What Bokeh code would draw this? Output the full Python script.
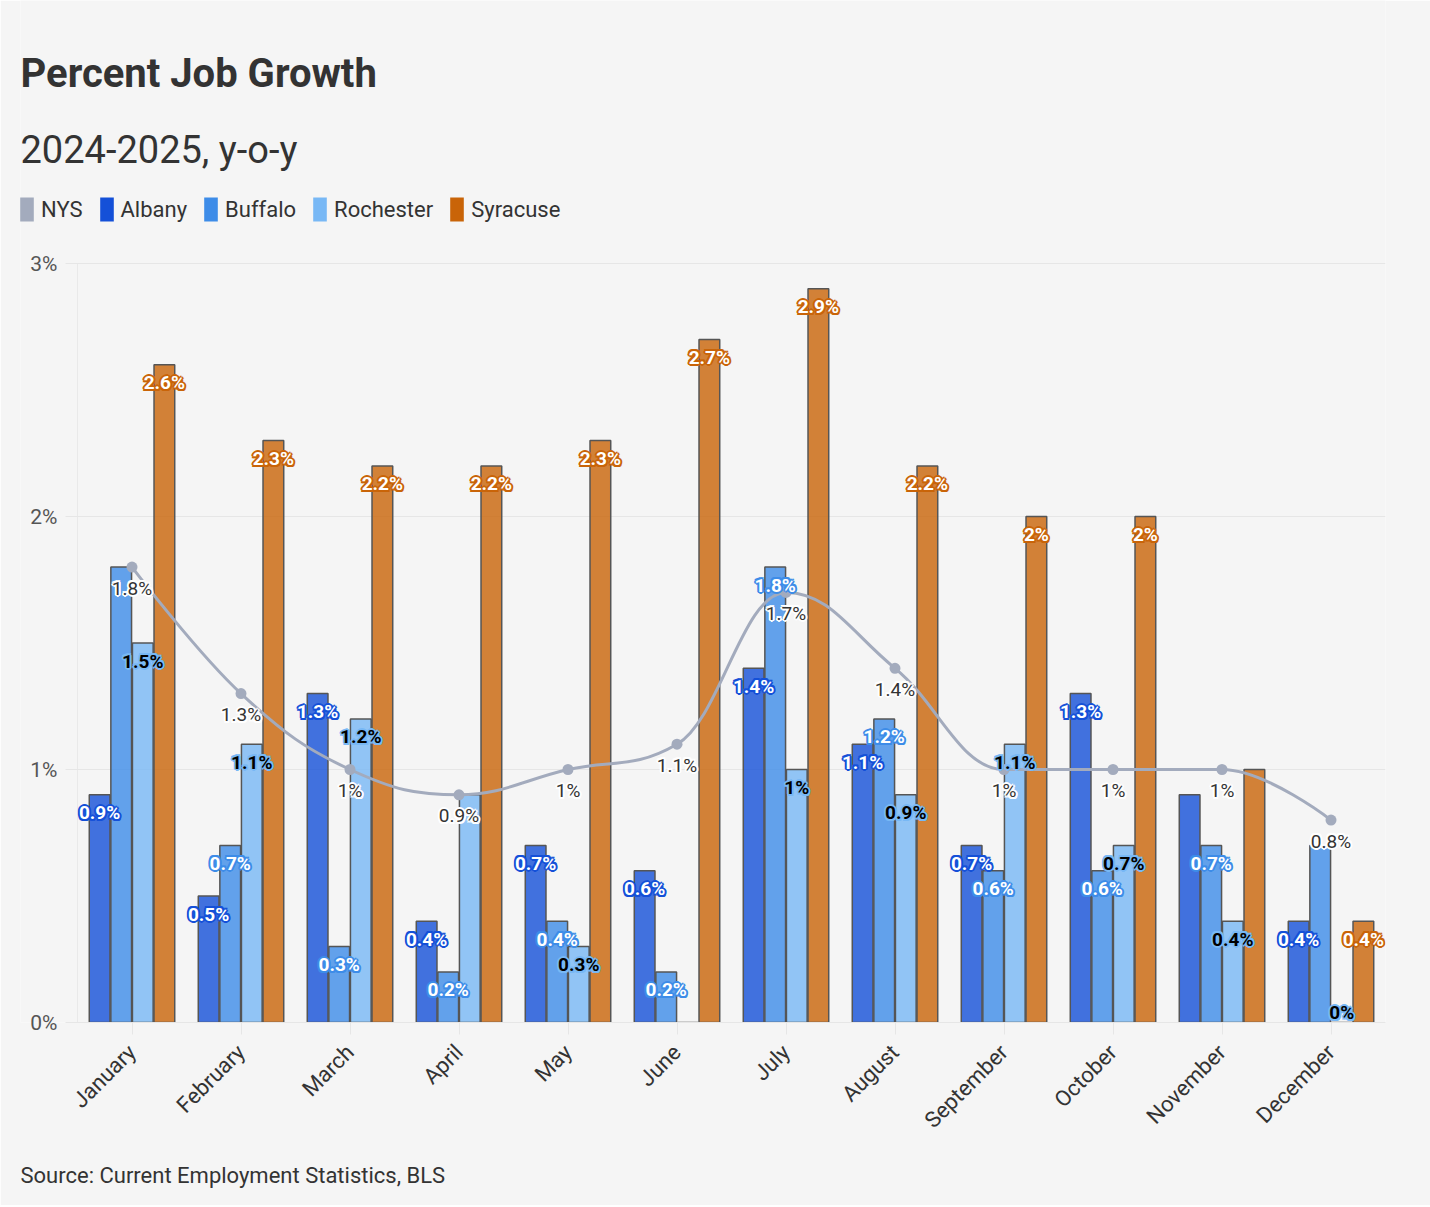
import numpy as np
from bokeh.core.properties import value
from bokeh.embed import file_html
from bokeh.models import (ColumnDataSource, FixedTicker, Label, Legend, LegendItem,
                          PrintfTickFormatter, Range1d, Title)
from bokeh.plotting import figure
from bokeh.resources import INLINE

months = ["January", "February", "March", "April", "May", "June",
          "July", "August", "September", "October", "November", "December"]

nys = [1.8, 1.3, 1.0, 0.9, 1.0, 1.1, 1.7, 1.4, 1.0, 1.0, 1.0, 0.8]
albany = [0.9, 0.5, 1.3, 0.4, 0.7, 0.6, 1.4, 1.1, 0.7, 1.3, 0.9, 0.4]
buffalo = [1.8, 0.7, 0.3, 0.2, 0.4, 0.2, 1.8, 1.2, 0.6, 0.6, 0.7, 0.7]
rochester = [1.5, 1.1, 1.2, 0.9, 0.3, 0.0, 1.0, 0.9, 1.1, 0.7, 0.4, 0.0]
syracuse = [2.6, 2.3, 2.2, 2.2, 2.3, 2.7, 2.9, 2.2, 2.0, 2.0, 1.0, 0.4]

y_ticks = [0, 1, 2, 3]

# labels the original chart drops because they collide with others
hidden_labels = {("Albany", 10), ("Buffalo", 0), ("Buffalo", 11),
                 ("Rochester", 3), ("Rochester", 5), ("Syracuse", 10)}

FONT = "Roboto"
BG = "#f5f5f5"
NYS_COLOR = "#a3abbd"
HALO = [(-2, 0), (2, 0), (0, -2), (0, 2), (-1.5, -1.5), (1.5, -1.5), (-1.5, 1.5), (1.5, 1.5)]

# name, values, colour, label text colour, offset
bars = [
    ("Albany", albany, "#1450d8", "white", -0.297),
    ("Buffalo", buffalo, "#3d8ce8", "white", -0.099),
    ("Rochester", rochester, "#78b8f5", "black", 0.099),
    ("Syracuse", syracuse, "#c96408", "white", 0.297),
]

# layout in pixels: the frame runs from x=20 to 1385 and from y=0 to 1022,
# the category area starts at x=77, one percent is 253 px
PX_X = 109.0
PX_Y = 253.0
cat_start = -0.5
x_start = cat_start - 57 / PX_X
plot_left = cat_start - 12 / PX_X
y_top = 3 + 263 / PX_Y


def outlined_text(fig, xs, ys, texts, dys, color, halo, bold):
    hx, hy, ht, hdx, hdy = [], [], [], [], []
    for x, y, t, d in zip(xs, ys, texts, dys):
        for ox, oy in HALO:
            hx.append(x); hy.append(y); ht.append(t)
            hdx.append(ox); hdy.append(d + oy)
    style = dict(text_align="center", text_baseline="middle", text_font=value(FONT),
                 text_font_style="bold" if bold else "normal", text_font_size="19px")
    fig.text(x="x", y="y", text="t", x_offset="dx", y_offset="dy",
             source=ColumnDataSource(data=dict(x=hx, y=hy, t=ht, dx=hdx, dy=hdy)),
             text_color=halo, **style)
    fig.text(x="x", y="y", text="t", y_offset="dy",
             source=ColumnDataSource(data=dict(x=xs, y=ys, t=texts, dy=dys)),
             text_color=color, **style)


p = figure(width=1430, height=1205, output_backend="svg", toolbar_location=None, tools="",
           x_range=Range1d(x_start, 11.5), y_range=Range1d(0, y_top),
           min_border_left=20, min_border_right=45, min_border_top=0, min_border_bottom=183)
p.background_fill_color = BG
p.border_fill_color = BG
p.outline_line_color = None

grid = p.ygrid[0]
xgrid = p.xgrid[0]
if "cross_bounds" in grid.properties():
    grid.ticker = FixedTicker(ticks=y_ticks)
    grid.grid_line_color = "#e6e6e6"
    grid.cross_bounds = (plot_left, 11.5)
    # faint line where the category area starts
    xgrid.ticker = FixedTicker(ticks=[cat_start])
    xgrid.grid_line_color = "#e9e9e9"
    xgrid.cross_bounds = (0, 3)
else:
    grid.grid_line_color = None
    xgrid.grid_line_color = None
    p.segment(x0=[plot_left] * len(y_ticks), x1=[11.5] * len(y_ticks), y0=y_ticks, y1=y_ticks,
              line_color="#e6e6e6", line_width=1)

p.yaxis.ticker = FixedTicker(ticks=y_ticks)
p.yaxis.formatter = PrintfTickFormatter(format="%d%%")
p.yaxis.axis_line_color = None
p.yaxis.major_tick_line_color = None
p.yaxis.major_tick_out = 0
p.yaxis.major_tick_in = 0
p.yaxis.minor_tick_line_color = None
p.yaxis.major_label_text_font = FONT
p.yaxis.major_label_text_font_size = "21px"
p.yaxis.major_label_text_color = "#555555"
p.yaxis.major_label_standoff = -37   # labels sit just left of the category area

p.xaxis.ticker = FixedTicker(ticks=list(range(len(months))))
p.xaxis.major_label_overrides = {i: m for i, m in enumerate(months)}
p.xaxis.bounds = (plot_left, 11.5)
p.xaxis.axis_line_color = "#e6e6e6"
p.xaxis.major_tick_line_color = "#e6e6e6"
p.xaxis.major_tick_in = 0
p.xaxis.major_tick_out = 12
p.xaxis.minor_tick_line_color = None
p.xaxis.major_label_orientation = np.pi / 4
p.xaxis.major_label_text_font = FONT
p.xaxis.major_label_text_font_size = "22px"
p.xaxis.major_label_text_color = "#333333"
p.xaxis.major_label_standoff = 14

idx = np.arange(len(months))

for name, vals, color, txt, off in bars:
    src = ColumnDataSource(data=dict(x=idx + off, top=vals))
    p.vbar(x="x", top="top", width=0.19, source=src, fill_color=color, fill_alpha=0.8,
           line_color="#555555", line_width=1.5)

# NYS spline (Highcharts style control points)
xs = [float(i) for i in idx]
ys = list(nys)
n = len(xs)
lcx, lcy = xs[:], ys[:]
rcx, rcy = xs[:], ys[:]
sm = 1.5
for i in range(1, n - 1):
    lx = (sm * xs[i] + xs[i - 1]) / (sm + 1)
    ly = (sm * ys[i] + ys[i - 1]) / (sm + 1)
    rx = (sm * xs[i] + xs[i + 1]) / (sm + 1)
    ry = (sm * ys[i] + ys[i + 1]) / (sm + 1)
    corr = (ry - ly) * (rx - xs[i]) / (rx - lx) + ys[i] - ry
    ly += corr
    ry += corr
    if ly > ys[i - 1] and ly > ys[i]:
        ly = max(ys[i - 1], ys[i]); ry = 2 * ys[i] - ly
    elif ly < ys[i - 1] and ly < ys[i]:
        ly = min(ys[i - 1], ys[i]); ry = 2 * ys[i] - ly
    if ry > ys[i + 1] and ry > ys[i]:
        ry = max(ys[i + 1], ys[i]); ly = 2 * ys[i] - ry
    elif ry < ys[i + 1] and ry < ys[i]:
        ry = min(ys[i + 1], ys[i]); ly = 2 * ys[i] - ry
    lcx[i], lcy[i], rcx[i], rcy[i] = lx, ly, rx, ry

seg = ColumnDataSource(data=dict(
    x0=xs[:-1], y0=ys[:-1], x1=xs[1:], y1=ys[1:],
    cx0=rcx[:-1], cy0=rcy[:-1], cx1=lcx[1:], cy1=lcy[1:]))
p.bezier(x0="x0", y0="y0", x1="x1", y1="y1", cx0="cx0", cy0="cy0", cx1="cx1", cy1="cy1",
         source=seg, line_color=NYS_COLOR, line_width=3)
p.scatter(x=xs, y=ys, size=11, fill_color=NYS_COLOR, line_color=None)

# bar data labels
for name, vals, color, txt, off in bars:
    lx, ly, lt, dy = [], [], [], []
    for i, v in enumerate(vals):
        if (name, i) in hidden_labels:
            continue
        lx.append(i + off)
        ly.append(v)
        lt.append(f"{v:g}%")
        dy.append(18 if v > 0 else -10)
    outlined_text(p, lx, ly, lt, dy, txt, color, True)

outlined_text(p, xs, ys, [f"{v:g}%" for v in nys], [21] * n, "#333333", "white", False)

# legend (swatch-only proxies, nothing drawn in the chart area)
legend_names = ["NYS"] + [b[0] for b in bars]
legend_colors = [NYS_COLOR] + [b[2] for b in bars]
items = []
for name, color in zip(legend_names, legend_colors):
    r = p.vbar(x=[np.nan], top=[np.nan], width=0.19, fill_color=color, line_color=None)
    items.append(LegendItem(label=name, renderers=[r]))
p.add_layout(Legend(items=items, orientation="horizontal", location=(-2, 1022 - 224),
                    glyph_width=17, glyph_height=30, label_standoff=6, spacing=15,
                    padding=0, margin=0, border_line_color=None, background_fill_alpha=0,
                    label_text_font=FONT, label_text_font_size="22px",
                    label_text_color="#333333", label_text_baseline="middle"))

# title block
p.add_layout(Label(x=x_start, y=(1022 - 73) / PX_Y, text="Percent Job Growth", text_font=FONT,
                   text_font_style="bold", text_font_size="40px", text_color="#333333",
                   text_baseline="middle"))
p.add_layout(Label(x=x_start, y=(1022 - 149) / PX_Y, text="2024-2025, y-o-y", text_font=FONT,
                   text_font_size="38px", text_color="#333333", text_baseline="middle"))

p.add_layout(Title(text="Source: Current Employment Statistics, BLS", align="left", offset=0,
                   text_font=FONT, text_font_size="22px", text_font_style="normal",
                   text_color="#333333", standoff=32), "below")

open("out.html", "w").write(file_html(p, INLINE))
